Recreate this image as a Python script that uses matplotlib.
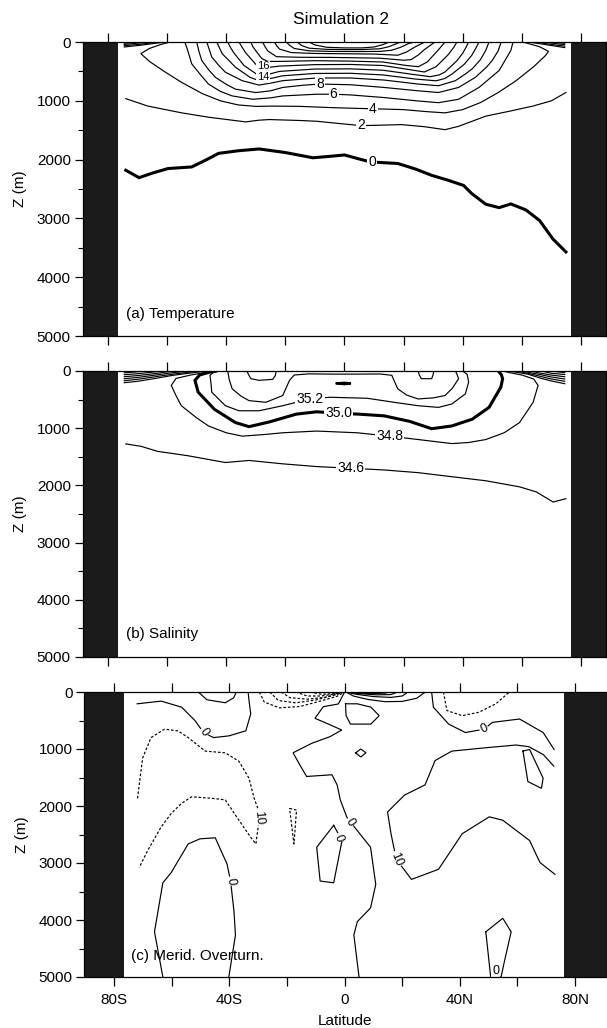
import matplotlib
matplotlib.use("Agg")
import matplotlib.pyplot as plt
from matplotlib.ticker import MultipleLocator

plt.rcParams['font.family'] = ['Liberation Sans', 'DejaVu Sans']

# ------------------------------------------------------------------ data
LAT_TICKS = [-80, -60, -40, -20, 0, 20, 40, 60, 80]
LAT_TICK_LABELS = ['80S', '', '40S', '', '0', '', '40N', '', '80N']
DEPTH_TICKS = [0, 1000, 2000, 3000, 4000, 5000]
LAND_AB = [-76.6, 76.6]          # southern / northern land edge, panels a, b
LAND_C = [-76.5, 76.2]           # southern / northern land edge, panel c

# (a) Temperature isotherms (lat, depth m)
t_iso_0 = [(-74, 2181), (-69.5, 2307), (-65, 2230), (-59.7, 2152), (-51.7, 2125), (-47, 2010),
           (-42.6, 1894), (-36, 1850), (-28.9, 1819), (-20, 1880), (-10.7, 1969), (-5, 1945),
           (0, 1921), (5, 1990), (8.9, 2040), (18, 2066), (24, 2160), (29.5, 2268), (35, 2350),
           (40.3, 2440), (43, 2576), (47.8, 2759), (52.3, 2817), (56.3, 2754), (61.4, 2857),
           (66, 3036), (70.5, 3350), (74.9, 3570)]
t_iso_2 = [(-74, 963), (-66.6, 1089), (-55.2, 1204), (-46, 1279), (-33.4, 1359), (-29, 1330),
           (-25.4, 1319), (-15, 1335), (-9.4, 1348), (0, 1395), (5.5, 1422), (12, 1415),
           (19.2, 1405), (27, 1440), (34, 1491), (38.6, 1434), (47.8, 1261), (56, 1175),
           (63.8, 1089), (70, 1000), (74.9, 859)]
t_iso_4 = [(-59, 0), (-62, 40), (-66, 110), (-68.9, 198), (-66, 330), (-61, 500), (-55, 690),
           (-48, 880), (-42, 1000), (-36, 1070), (-30, 1095), (-24, 1090), (-15, 1095),
           (-5, 1115), (5, 1130), (9.6, 1135), (20, 1150), (28, 1185), (34, 1205), (40, 1150),
           (46, 1030), (52, 860), (58, 660), (64, 420), (68, 230), (69, 160), (66, 80), (60.3, 0)]
t_iso_6 = [(-54, 0), (-53, 150), (-51.7, 370), (-49, 540), (-46, 716), (-42, 840), (-38, 917),
           (-31.1, 974), (-25, 950), (-20.9, 917), (-9.4, 888), (-3.7, 888), (2, 900),
           (13.4, 945), (24.9, 1003), (31.8, 1032), (38.6, 974), (45.5, 773), (52.3, 486),
           (56.3, 141), (57, 0)]
t_iso_8 = [(-50, 0), (-49.3, 150), (-48.3, 313), (-46, 470), (-43.7, 600), (-40, 720),
           (-36.9, 802), (-30, 860), (-25, 830), (-20.9, 773), (-14, 735), (-8.3, 715),
           (2, 727), (13.4, 773), (24.9, 830), (31.8, 859), (38.6, 773), (44.3, 600),
           (48, 430), (50, 313), (52, 150), (53, 0)]
t_iso_10 = [(-46.6, 0), (-45.8, 120), (-44.9, 256), (-42.5, 400), (-40.3, 514), (-34.6, 658),
            (-28.9, 733), (-25, 700), (-20.9, 658), (-9.4, 612), (2, 612), (13.4, 647),
            (24.9, 715), (31.8, 744), (37.5, 658), (41, 540), (43.2, 457), (46, 300),
            (47.8, 141), (48.9, 0)]
t_iso_12 = [(-43.2, 0), (-42.3, 100), (-41.4, 198), (-39, 320), (-36.9, 428), (-32, 600),
            (-28.9, 658), (-24, 610), (-21, 575), (-10, 535), (2, 532), (13, 560), (24, 630),
            (31, 660), (34, 620), (36.5, 540), (40.5, 380), (43, 230), (44.5, 100), (45.5, 0)]
t_iso_14 = [(-39.5, 0), (-38.5, 100), (-37.5, 180), (-34, 400), (-29, 572), (-25, 540),
            (-22, 500), (-10, 460), (2, 457), (13, 480), (23, 550), (29, 590), (32, 560),
            (34, 510), (38, 320), (40, 190), (41, 100), (42, 0)]
t_iso_16 = [(-35.7, 0), (-34.5, 100), (-33.5, 180), (-30, 380), (-27, 440), (-22, 410),
            (-10, 385), (2, 382), (13, 400), (22, 470), (27, 510), (31, 420), (33, 320),
            (35, 220), (37, 90), (38, 0)]
t_iso_18 = [(-31.7, 0), (-31, 80), (-30, 150), (-28, 280), (-26, 330), (-22, 330), (-10, 318),
            (2, 325), (13, 340), (21, 400), (25, 420), (28, 340), (30, 230), (32, 120), (34, 0)]
t_iso_20 = [(-27.7, 0), (-27, 70), (-26, 150), (-23, 250), (-15, 260), (-5, 262), (2, 267),
            (12, 275), (20, 310), (22.5, 300), (25, 220), (27, 130), (30.6, 0)]
t_iso_22 = [(-23.7, 0), (-23, 60), (-22, 120), (-18, 180), (-10, 195), (0, 200), (10, 205),
            (18, 225), (21, 170), (24, 80), (27.2, 0)]
t_iso_24 = [(-19.7, 0), (-18.5, 60), (-17, 110), (-12, 150), (-5, 160), (5, 162), (12, 160),
            (16, 140), (19, 90), (21.5, 30), (23.7, 0)]
t_iso_26 = [(-16, 0), (-14.5, 60), (-12, 105), (-6, 125), (0, 128), (6, 128), (12, 115),
            (15, 80), (17.5, 30), (19, 0)]
t_iso_28 = [(-12, 0), (-10, 50), (-6, 90), (0, 100), (6, 100), (10, 85), (13, 45), (15, 0)]
# cold surface layer next to the walls (packed isotherms)
t_wall_s1 = [(-74.5, 85), (-69, 55), (-64, 22), (-60.5, 0)]
t_wall_s2 = [(-74.5, 62), (-69, 38), (-65, 12), (-63, 0)]
t_wall_s3 = [(-74.5, 40), (-70, 20), (-66, 0)]
t_wall_s4 = [(-74.5, 20), (-71, 8), (-69, 0)]
t_wall_n1 = [(74.5, 95), (70, 60), (66, 28), (62, 0)]
t_wall_n2 = [(74.5, 70), (70, 42), (67, 18), (64.5, 0)]
t_wall_n3 = [(74.5, 45), (71, 25), (67.5, 0)]
t_wall_n4 = [(74.5, 22), (72, 9), (70.5, 0)]

# (b) Salinity isohalines (lat, depth m)
s_iso_346 = [(-74, 1275), (-68.9, 1316), (-63.2, 1405), (-52.9, 1482), (-40.3, 1600),
             (-32.3, 1564), (-20.9, 1623), (-9.4, 1671), (2, 1700), (13.4, 1730), (24.9, 1777),
             (36.3, 1848), (47.8, 1919), (59.2, 2025), (64.9, 2114), (70.6, 2291), (74.9, 2232)]
s_iso_348 = [(-44.5, 0), (-47, 25), (-52, 70), (-57, 130), (-58.6, 252), (-57, 430),
             (-55.2, 607), (-50, 820), (-46, 961), (-40, 1080), (-34.6, 1139), (-27, 1110),
             (-20.9, 1080), (-9.4, 1050), (4.3, 1080), (15.2, 1139), (24.9, 1198), (36.3, 1269),
             (42, 1250), (47.8, 1198), (54, 1080), (59.2, 902), (63.8, 548), (65.5, 252),
             (64, 140), (60, 70), (56, 30), (53.5, 0)]
s_iso_350 = [(-43.5, 0), (-46, 25), (-49, 70), (-50.6, 163), (-49.5, 370), (-44, 670),
             (-40, 800), (-36.9, 902), (-32.3, 973), (-25.4, 890), (-16.3, 754), (-9.4, 713),
             (-2.6, 737), (5, 755), (13.4, 784), (22, 880), (29.5, 1009), (36.3, 961),
             (43.2, 843), (48.9, 636), (52.9, 282), (53.5, 134), (53, 60), (52, 0)]
s_iso_352 = [(-42.5, 0), (-44.5, 30), (-45.5, 75), (-45.2, 200), (-44.9, 370), (-40.3, 607),
             (-35.7, 695), (-28.9, 695), (-20.9, 607), (-11.7, 488), (-4.9, 459), (7.7, 477),
             (16.9, 548), (24.9, 607), (31.8, 636), (36.3, 577), (40.9, 400), (42, 193),
             (41.5, 60), (40, 0)]
s_iso_354 = [(-39.5, 0), (-39, 150), (-38, 311), (-35, 440), (-32.3, 518), (-26.6, 547),
             (-20.9, 429), (-18.6, 163), (-17, 70), (-12, 50), (-4, 55), (4, 55), (12, 52),
             (16, 75), (18, 311), (21, 420), (24.9, 489), (30, 470), (34, 429), (36.5, 300),
             (38.6, 134), (38, 50), (37.5, 0)]
s_iso_356_s = [(-33, 0), (-32.5, 60), (-31.7, 134), (-28.9, 163), (-24.3, 146), (-23.4, 80),
               (-23.1, 0)]
s_iso_356_n = [(24.9, 0), (25.3, 70), (26, 134), (29.5, 134), (30, 60), (30.2, 0)]
s_loop_eq = [(-2.6, 215), (0, 205), (2.2, 215), (0, 232), (-2.6, 215)]
# fresh surface layer next to the walls (packed isohalines)
s_wall_s1 = [(-74.5, 205), (-70, 180), (-64, 130), (-58, 75), (-52, 35), (-48, 10), (-46, 0)]
s_wall_s2 = [(-74.5, 170), (-70, 145), (-64, 100), (-58, 55), (-53, 22), (-49, 0)]
s_wall_s3 = [(-74.5, 135), (-70, 112), (-64, 72), (-59, 35), (-53, 0)]
s_wall_s4 = [(-74.5, 100), (-70, 80), (-64, 45), (-58, 0)]
s_wall_s5 = [(-74.5, 65), (-70, 48), (-65, 20), (-62, 0)]
s_wall_s6 = [(-74.5, 32), (-71, 18), (-67, 0)]
s_wall_n1 = [(74.5, 222), (70, 175), (66, 120), (62, 55), (58, 20), (55, 0)]
s_wall_n2 = [(74.5, 180), (70, 140), (66, 90), (62, 40), (58, 0)]
s_wall_n3 = [(74.5, 140), (70, 105), (66, 60), (62, 20), (60, 0)]
s_wall_n4 = [(74.5, 100), (70, 72), (66, 35), (63, 0)]
s_wall_n5 = [(74.5, 62), (70, 40), (66.5, 0)]
s_wall_n6 = [(74.5, 28), (71.5, 12), (70, 0)]

# (c) Meridional overturning streamlines (lat, depth m); solid >= 0, dashed < 0
psi_sh_cell_0 = [(-72, 207), (-63.7, 160), (-56.6, 266), (-51.9, 504), (-49, 711), (-45.5, 800),
                 (-40.2, 770), (-34.3, 681), (-32.6, 385), (-33.2, 148), (-33.5, 0)]
psi_sh_cell_10 = [(-50.8, 0), (-47.8, 136), (-41.4, 189), (-38.5, 100), (-37.6, 0)]
psi_trop_s1 = [(-29.6, 0), (-27.9, 177), (-22.6, 278), (-15.6, 255), (-9.7, 177), (-2.65, 76), (0, 0)]
psi_trop_s2 = [(-26, 0), (-23, 150), (-17, 190), (-10, 140), (-4, 60), (-0.5, 0)]
psi_trop_s3 = [(-22, 0), (-19, 100), (-13, 125), (-7, 95), (-2.5, 40), (-0.5, 0)]
psi_trop_s4 = [(-17, 0), (-13, 70), (-8, 70), (-3, 30), (-0.5, 0)]
psi_trop_s5 = [(-12, 0), (-8, 40), (-4, 30), (-1, 0)]
psi_trop_n1 = [(0.5, 0), (3, 70), (8, 130), (14, 170), (20, 165), (25, 110), (28, 0)]
psi_trop_n2 = [(0.3, 0), (4, 40), (10, 80), (16, 95), (20, 70), (22, 0)]
psi_trop_n3 = [(0.3, 0), (5, 28), (11, 50), (16, 45), (18.5, 0)]
psi_trop_n4 = [(0.3, 0), (5, 18), (10, 28), (14, 20), (15.5, 0)]
psi_trop_n5 = [(0.3, 0), (4, 12), (8, 15), (11, 10), (12.5, 0)]
psi_trop_n6 = [(0.3, 0), (3, 7), (6, 8), (9, 0)]
psi_eq_loop = [(0.3, 207), (0.5, 415), (2.0, 563), (9.1, 563), (12.0, 415), (9.1, 266),
               (4.4, 207), (0.3, 207)]
psi_zero_main = [(5.0, 5000), (3.2, 4262), (4.4, 4029), (9.0, 3788), (10.8, 3376), (9.0, 2724),
                 (2.0, 2280), (0.8, 2200), (-1.5, 1894), (-2.6, 1631), (-4.4, 1452),
                 (-13.2, 1482), (-15.6, 1275), (-17.9, 1066), (-11.4, 900), (-5.1, 784),
                 (-1.0, 667), (-6.2, 550), (-10.3, 462), (-7.4, 257), (-2.2, 210), (0, 0)]
psi_nh_zero = [(30.2, 0), (30.8, 266), (36.1, 563), (41.9, 711), (48.4, 652), (51.3, 533),
               (60.7, 474), (68.9, 711), (72.7, 1008)]
psi_nh_neg = [(34.3, 0), (35.5, 326), (40.8, 415), (46.6, 355), (52.5, 207), (57.2, 0)]
psi_nadw_10 = [(72.6, 1300), (69, 1100), (64, 960), (59.5, 930), (49, 978), (37.2, 1037),
               (31.4, 1203), (27.9, 1630), (20.8, 1808), (14.9, 2105), (16.1, 2487),
               (17.9, 2932), (23.2, 3288), (32.6, 3110), (40.8, 2487), (50.2, 2190),
               (54.9, 2250), (64.2, 2606), (67.8, 2991), (73.0, 3199)]
psi_nh_loop = [(61.9, 1037), (64.2, 1008), (68.9, 1512), (68.3, 1690), (63.6, 1571), (61.9, 1037)]
psi_eq_diamond = [(3.8, 1067), (5.6, 1000), (7.4, 1067), (5.6, 1140), (3.8, 1067)]
psi_deacon_m10 = [(-71.9, 1867), (-70.1, 1156), (-67.2, 800), (-62.5, 652), (-57.8, 682),
                  (-54.3, 800), (-48.4, 1037), (-41.4, 1067), (-36.7, 1215), (-33.2, 1512),
                  (-31.4, 1867), (-29.7, 2100), (-29.8, 2290), (-30.8, 2665), (-32.6, 2550),
                  (-36.7, 2250), (-41.4, 1894), (-45, 1870), (-53.1, 1838), (-56.6, 1953),
                  (-60.2, 2131), (-63.7, 2368), (-68.4, 2784), (-71.3, 3080)]
psi_aabw_0 = [(-63.1, 5000), (-66.0, 4207), (-63.1, 3347), (-60.2, 3169), (-54.3, 2665),
              (-50.2, 2576), (-44.9, 2558), (-40.8, 3021), (-39.6, 3317), (-38.4, 3851),
              (-37.9, 4266), (-40.2, 5000)]
psi_mid_loop = [(-3.8, 2339), (-9.7, 2724), (-8.5, 3317), (-3.8, 3347), (-0.9, 2606), (-3.8, 2339)]
psi_sliver = [(-19.1, 2042), (-16.7, 2072), (-17.6, 2665), (-19.1, 2042)]
psi_bottom_loop = [(49.0, 4207), (54.9, 3970), (57.8, 4207), (55.4, 4740), (54.3, 5000),
                   (50.7, 5000), (49.0, 4207)]

# ------------------------------------------------------------------ figure
W, H = 607, 1028
fig = plt.figure(figsize=(W / 100, H / 100), dpi=100)


def add_ax(left, top, right, bottom):
    return fig.add_axes([left / W, 1 - bottom / H, (right - left) / W, (bottom - top) / H])


ax_a = add_ax(82.6, 42, 606.4, 336)
ax_b = add_ax(82.6, 371, 606.4, 657)
ax_c = add_ax(84.2, 692, 606.8, 977)


def setup(ax, xlim, land, show_x):
    ax.set_xlim(*xlim)
    ax.set_ylim(5000, 0)
    ax.axvspan(xlim[0], land[0], color='#1b1b1b', lw=0, zorder=1)
    ax.axvspan(land[1], xlim[1], color='#1b1b1b', lw=0, zorder=1)
    ax.set_xticks(LAT_TICKS)
    ax.set_xticklabels(LAT_TICK_LABELS if show_x else [''] * len(LAT_TICKS))
    ax.tick_params(axis='x', which='major', direction='out', length=6.5, width=0.9,
                   top=True, bottom=True, labelsize=11, pad=5)
    ax.set_yticks(DEPTH_TICKS)
    ax.set_yticklabels([str(d) for d in DEPTH_TICKS])
    ax.yaxis.set_minor_locator(MultipleLocator(500))
    ax.tick_params(axis='y', which='major', direction='out', length=5.5, width=0.9,
                   left=True, right=True, labelsize=11, pad=3)
    ax.tick_params(axis='y', which='minor', direction='out', length=3.5, width=0.8,
                   left=True, right=True)
    ax.set_ylabel('Z (m)', fontsize=11, labelpad=7)
    for s in ax.spines.values():
        s.set_linewidth(0.9)
        s.set_zorder(6)


def draw(ax, line, lw=0.85, dashed=False):
    lat = [p[0] for p in line]
    dep = [p[1] for p in line]
    ln, = ax.plot(lat, dep, color='black', lw=lw, zorder=3, solid_joinstyle='miter')
    if dashed:
        ln.set_dashes([2.2, 1.6])


def label(ax, lat, dep, s, rot=0, fs=10):
    ax.text(lat, dep, s, rotation=rot, ha='center', va='center', fontsize=fs, zorder=5,
            bbox=dict(boxstyle='square,pad=0.08', fc='white', ec='none'))


setup(ax_a, (-88.6, 88.6), LAND_AB, False)
setup(ax_b, (-88.6, 88.6), LAND_AB, False)
setup(ax_c, (-90.4, 91.0), LAND_C, True)

# ---- (a) temperature
draw(ax_a, t_iso_0, lw=2.2)
for iso in [t_iso_2, t_iso_4, t_iso_6, t_iso_8, t_iso_10, t_iso_12, t_iso_14, t_iso_16,
            t_iso_18, t_iso_20, t_iso_22, t_iso_24, t_iso_26, t_iso_28,
            t_wall_s1, t_wall_s2, t_wall_s3, t_wall_s4,
            t_wall_n1, t_wall_n2, t_wall_n3, t_wall_n4]:
    draw(ax_a, iso)
label(ax_a, 9.3, 2045, '0')
label(ax_a, 5.5, 1420, '2')
label(ax_a, 9.6, 1135, '4')
label(ax_a, -3.7, 888, '6')
label(ax_a, -8.3, 716, '8')
label(ax_a, -27.6, 415, '16', fs=8)
label(ax_a, -27.6, 600, '14', fs=8)
ax_a.text(0.083, 0.0765, '(a) Temperature', transform=ax_a.transAxes, fontsize=11,
          ha='left', va='center', zorder=5)

# ---- (b) salinity
draw(ax_b, s_iso_350, lw=2.2)
draw(ax_b, s_loop_eq, lw=1.6)
for iso in [s_iso_346, s_iso_348, s_iso_352, s_iso_354, s_iso_356_s, s_iso_356_n,
            s_wall_s1, s_wall_s2, s_wall_s3, s_wall_s4, s_wall_s5, s_wall_s6,
            s_wall_n1, s_wall_n2, s_wall_n3, s_wall_n4, s_wall_n5, s_wall_n6]:
    draw(ax_b, iso)
label(ax_b, -11.7, 488, '35.2')
label(ax_b, -2.0, 737, '35.0')
label(ax_b, 15.2, 1139, '34.8')
label(ax_b, 2.0, 1700, '34.6')
ax_b.text(0.083, 0.080, '(b) Salinity', transform=ax_b.transAxes, fontsize=11,
          ha='left', va='center', zorder=5)

# ---- (c) meridional overturning
for iso in [psi_sh_cell_0, psi_sh_cell_10, psi_trop_n1, psi_trop_n2, psi_trop_n3,
            psi_trop_n4, psi_trop_n5, psi_trop_n6, psi_eq_loop, psi_zero_main, psi_nh_zero,
            psi_nadw_10, psi_nh_loop, psi_eq_diamond, psi_aabw_0, psi_mid_loop,
            psi_bottom_loop]:
    draw(ax_c, iso)
for iso in [psi_trop_s1, psi_trop_s2, psi_trop_s3, psi_trop_s4, psi_trop_s5, psi_nh_neg,
            psi_deacon_m10, psi_sliver]:
    draw(ax_c, iso, dashed=True)
label(ax_c, -49.0, 711, '0', rot=-55, fs=9)
label(ax_c, 48.4, 652, '0', rot=25, fs=9)
label(ax_c, -29.7, 2200, '10', rot=-85, fs=9)
label(ax_c, 2.0, 2280, '0', rot=-57, fs=9)
label(ax_c, -2.2, 2560, '0', rot=-70, fs=9)
label(ax_c, 17.9, 2932, '10', rot=-68, fs=9)
label(ax_c, -39.6, 3317, '0', rot=-85, fs=9)
label(ax_c, 52.5, 4900, '0', fs=9)
ax_c.text(0.0896, 0.074, '(c) Merid. Overturn.', transform=ax_c.transAxes, fontsize=11,
          ha='left', va='center', zorder=5)
ax_c.set_xlabel('Latitude', fontsize=11, labelpad=5)

fig.text(341 / W, 1 - 20 / H, 'Simulation 2', ha='center', va='center', fontsize=12.5)

fig.savefig('out.png', dpi=100)
